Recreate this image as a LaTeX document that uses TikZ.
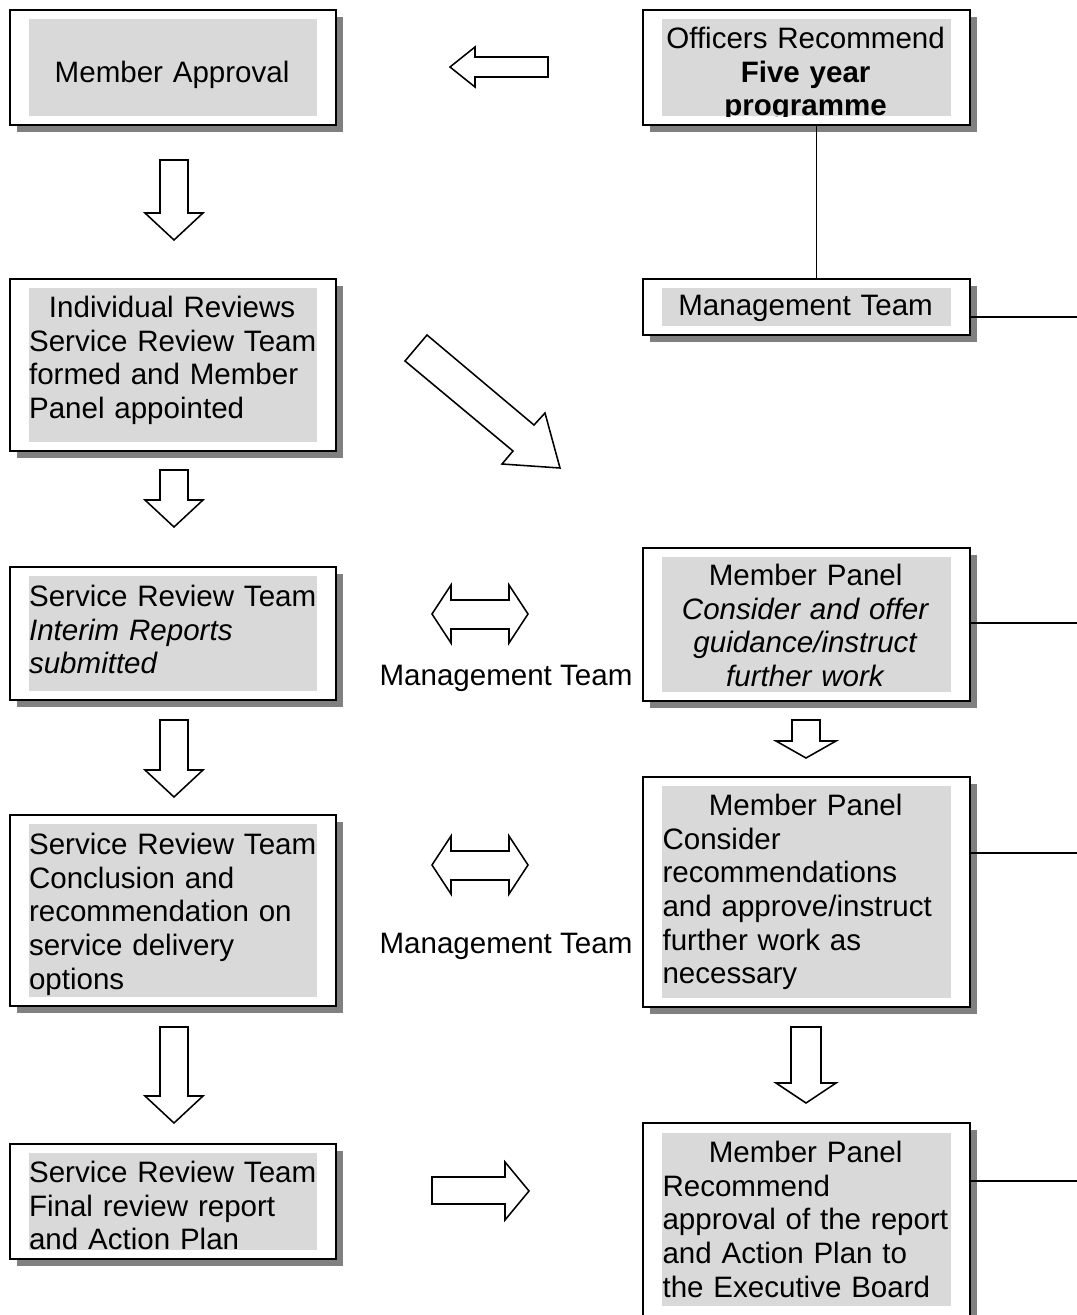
\documentclass[tikz,border=0pt]{standalone}
\usepackage{fontspec}
\setmainfont{Liberation Sans}
\usetikzlibrary{shadows}

\begin{document}
\begin{tikzpicture}[x=0.025cm, y=-0.025cm,
		panel/.style={draw, line width=1.4pt, fill=white, inner sep=0pt, minimum width=8.16cm,
			drop shadow={opacity=1, fill=black!50, shadow xshift=0.18cm, shadow yshift=-0.18cm}},
		greyfill/.style={fill=black!15},
		txt/.style={anchor=north west, inner sep=0pt, text width=7.5cm, align=left,
			font=\fontsize{21}{23.9}\selectfont},
		txtc/.style={txt, text width=7.15cm, align=center},
		blockarrow/.style={draw, line width=1.1pt, fill=white, line join=miter},
		link/.style={line width=1.2pt}]
			\def \colL {173};
			\def \colR {806.5};
			\def \edge {1080};

			\useasboundingbox (0,0) rectangle (1077,1315);

			%左列
			\node[panel, minimum height=2.875cm] (approval) at (\colL, 67.5) {};
			\node[panel, minimum height=4.3cm] (reviews) at (\colL, 365) {};
			\node[panel, minimum height=3.325cm] (interim) at (\colL, 633.5) {};
			\node[panel, minimum height=4.775cm] (conclusion) at (\colL, 910.5) {};
			\node[panel, minimum height=2.875cm] (final) at (\colL, 1201.5) {};

			%右列
			\node[panel, minimum height=2.875cm] (officers) at (\colR, 67.5) {};
			\node[panel, minimum height=1.4cm] (mteam) at (\colR, 307) {};
			\node[panel, minimum height=3.825cm] (panelA) at (\colR, 624.5) {};
			\node[panel, minimum height=5.75cm] (panelB) at (\colR, 892) {};
			\node[panel, minimum height=5.175cm] (panelC) at (\colR, 1226.5) {};

			%灰底
			\foreach \b in {approval, reviews, interim, conclusion, final, officers, mteam, panelA, panelB}
				\fill[greyfill] ([shift={(20,10)}]\b.north west) rectangle ([shift={(-20,-10)}]\b.south east);
			\fill[greyfill] ([shift={(20,11)}]panelC.north west) rectangle ([shift={(-20,-25)}]panelC.south east);

			%连线
			\draw[link] ([xshift=0.25cm]officers.south) -- ([xshift=0.25cm]mteam.north);
			\coordinate (outA) at (\edge, 317);
			\coordinate (outB) at (\edge, 623);
			\coordinate (outC) at (\edge, 853);
			\coordinate (outD) at (\edge, 1181);
			\draw[link] (mteam.east |- outA) -- (outA);
			\draw[link] (panelA.east |- outB) -- (outB);
			\draw[link] (panelB.east |- outC) -- (outC);
			\draw[link] (panelC.east |- outD) -- (outD);

			%文字
			\node[txtc] (approvaltxt) at ([shift={(20,52)}]approval.north west) {Member Approval};
			\node[txt] (reviewstxt) at ([shift={(20,18)}]reviews.north west)
				{\makebox[7.15cm]{Individual Reviews}\\ Service Review Team\\ formed and Member\\ Panel appointed};
			\node[txt] (interimtxt) at ([shift={(20,19)}]interim.north west)
				{Service Review Team\\ \textit{Interim Reports}\\ \textit{submitted}};
			\node[txt] (conclusiontxt) at ([shift={(20,19)}]conclusion.north west)
				{Service Review Team\\ Conclusion and\\ recommendation on\\ service delivery\\ options};
			\node[txt] (finaltxt) at ([shift={(20,18)}]final.north west)
				{Service Review Team\\ Final review report\\ and Action Plan};
			\begin{scope}
				\clip ([shift={(20,10)}]officers.north west) rectangle ([shift={(-20,-10)}]officers.south east);
				\node[txtc] (officerstxt) at ([shift={(20,18)}]officers.north west)
					{Officers Recommend\\ \textbf{Five year}\\ \textbf{programme}};
			\end{scope}
			\node[txtc] (mteamtxt) at ([shift={(20,17)}]mteam.north west) {Management Team};
			\node[txtc] (panelAtxt) at ([shift={(20,17)}]panelA.north west)
				{Member Panel\\ \textit{Consider and offer}\\ \textit{guidance/instruct}\\ \textit{further work}};
			\node[txt] (panelBtxt) at ([shift={(20,18)}]panelB.north west)
				{\makebox[7.15cm]{Member Panel}\\ Consider\\ recommendations\\ and approve/instruct\\ further work as\\ necessary};
			\node[txt] (panelCtxt) at ([shift={(20,19)}]panelC.north west)
				{\makebox[7.15cm]{Member Panel}\\ Recommend\\ approval of the report\\ and Action Plan to\\ the Executive Board};
			\node[anchor=north, inner sep=0pt, font=\fontsize{21}{23.9}\selectfont] (mtlabelA) at (506, 665) {Management Team};
			\node[anchor=north, inner sep=0pt, font=\fontsize{21}{23.9}\selectfont] (mtlabelB) at (506, 933) {Management Team};

			%箭头
			\foreach \cx/\top/\base/\tip/\bw/\hw in {174/160/213/240/14/29, 174/470/500/527/14/29,
					174/720/770/797/14/29, 174/1027/1096/1123/14/29,
					806/720/741/758/14/30, 806/1027/1083/1103/15/30}
				\draw[blockarrow] (\cx-\bw,\top) -- (\cx+\bw,\top) -- (\cx+\bw,\base) -- (\cx+\hw,\base)
					-- (\cx,\tip) -- (\cx-\hw,\base) -- (\cx-\bw,\base) -- cycle;
			\draw[blockarrow] (450,67) -- (475,47) -- (475,57) -- (548,57) -- (548,77) -- (475,77) -- (475,87) -- cycle;
			\draw[blockarrow] (432,1177) -- (505,1177) -- (505,1162) -- (529,1191) -- (505,1220) -- (505,1204) -- (432,1204) -- cycle;
			\draw[blockarrow] (427,335) -- (534,425) -- (545,413) -- (560,468) -- (502,464) -- (513,451) -- (405,361) -- cycle;
			\foreach \dy in {0, 251}
				\draw[blockarrow, shift={(0,\dy)}] (432,614) -- (451,585) -- (451,600) -- (509,600) -- (509,585) -- (528,614)
					-- (509,643) -- (509,629) -- (451,629) -- (451,643) -- cycle;
		\end{tikzpicture}
\end{document}
